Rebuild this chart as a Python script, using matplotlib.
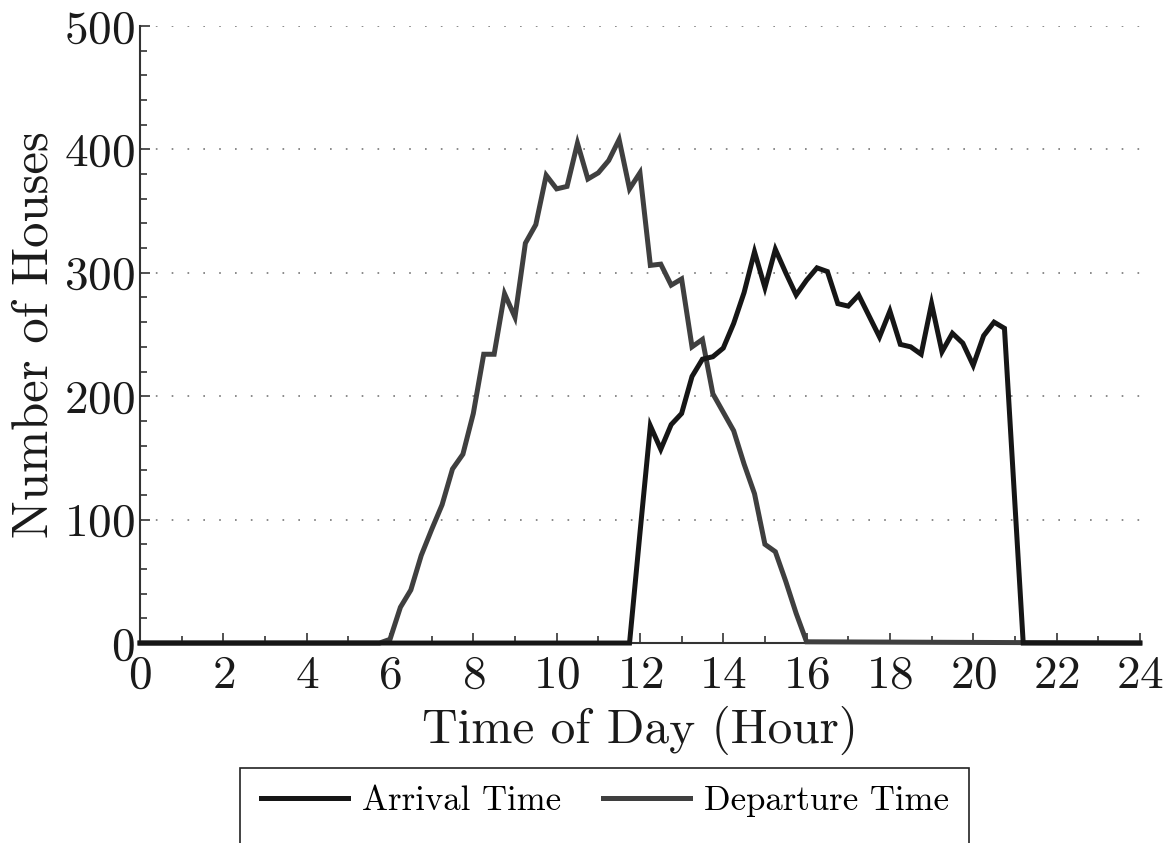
import matplotlib
matplotlib.use("Agg")
import matplotlib.pyplot as plt
from matplotlib.patches import Rectangle
from matplotlib.ticker import MultipleLocator

# LaTeX-like look (Computer Modern ships with matplotlib)
plt.rcParams['font.family'] = ['cmr10', 'DejaVu Serif']
plt.rcParams['axes.formatter.use_mathtext'] = True

# arrival times (hour of day -> number of houses), 15 min bins
arr_hours = [0, 11.75, 12.0, 12.25, 12.5, 12.75, 13.0, 13.25, 13.5, 13.75,
             14.0, 14.25, 14.5, 14.75, 15.0, 15.25, 15.5, 15.75, 16.0, 16.25,
             16.5, 16.75, 17.0, 17.25, 17.5, 17.75, 18.0, 18.25, 18.5, 18.75,
             19.0, 19.25, 19.5, 19.75, 20.0, 20.25, 20.5, 20.75, 21.2, 24]
arr_counts = [0, 0, 89, 176, 157, 177, 186, 216, 230, 232,
              239, 259, 284, 317, 288, 319, 300, 282, 294, 304,
              301, 275, 273, 282, 265, 248, 269, 242, 240, 234,
              275, 236, 251, 243, 225, 249, 260, 255, 0, 0]

# departure times
dep_hours = [0, 5.75, 6.0, 6.25, 6.5, 6.75, 7.0, 7.25, 7.5, 7.75,
             8.0, 8.25, 8.5, 8.75, 9.0, 9.25, 9.5, 9.75, 10.0, 10.25,
             10.5, 10.75, 11.0, 11.25, 11.5, 11.75, 12.0, 12.25, 12.5, 12.75,
             13.0, 13.25, 13.5, 13.75, 14.0, 14.25, 14.5, 14.75, 15.0, 15.25,
             15.5, 15.75, 16.0, 24]
dep_counts = [0, 0, 3, 29, 43, 71, 92, 112, 141, 153,
              186, 234, 234, 283, 264, 324, 339, 379, 368, 370,
              405, 376, 381, 391, 408, 368, 381, 306, 307, 290,
              295, 240, 246, 202, 187, 172, 145, 121, 80, 74,
              50, 24, 1, 0]

x_ticks = list(range(0, 25, 2))
y_ticks = [0, 100, 200, 300, 400, 500]

fig = plt.figure(figsize=(11.68, 8.43), dpi=100)
ax = fig.add_axes([0.1199, 0.2372, 0.856, 0.732])

ax.plot(dep_hours, dep_counts, color='#3f3f3f', lw=3.6, label='Departure Time',
        clip_on=False, solid_joinstyle='miter', zorder=3)
ax.plot(arr_hours, arr_counts, color='#161616', lw=3.6, label='Arrival Time',
        clip_on=False, solid_joinstyle='miter', zorder=4)

ax.set_xlim(0, 24)
ax.set_ylim(0, 500)
ax.set_xticks(x_ticks)
ax.set_yticks(y_ticks)
ax.xaxis.set_minor_locator(MultipleLocator(1))
ax.yaxis.set_minor_locator(MultipleLocator(20))
ax.tick_params(which='both', direction='in', top=False, right=False,
               colors='#333333', labelcolor='#1a1a1a', labelsize=34, width=1.2)
ax.tick_params(which='major', length=7)
ax.tick_params(which='minor', length=5)
ax.tick_params(axis='x', which='major', pad=9)
ax.tick_params(axis='y', which='major', pad=4)

for s in ['top', 'right']:
    ax.spines[s].set_visible(False)
for s in ['left', 'bottom']:
    ax.spines[s].set_color('#333333')
    ax.spines[s].set_linewidth(1.5)

ax.yaxis.grid(True, ls=(0, (1, 8.5)), color='#777777', lw=1.2)
ax.set_axisbelow(True)

ax.set_xlabel('Time of Day (Hour)', fontsize=35.5, color='#1a1a1a', labelpad=6)
ax.set_ylabel('Number of Houses', fontsize=36.5, color='#1a1a1a', labelpad=4)

# legend below, frame drawn separately (bottom runs off the page)
h, l = ax.get_legend_handles_labels()
fig.legend(h[::-1], l[::-1], loc='center', bbox_to_anchor=(0.518, 0.050),
           ncol=2, frameon=False, fontsize=25, handlelength=2.5,
           handletextpad=0.4, columnspacing=1.2)
fig.patches.append(Rectangle((0.2055, -0.05), 0.6245, 0.139, transform=fig.transFigure,
                             fill=False, ec='#222222', lw=1.2))

fig.savefig('out.png', dpi=100)
